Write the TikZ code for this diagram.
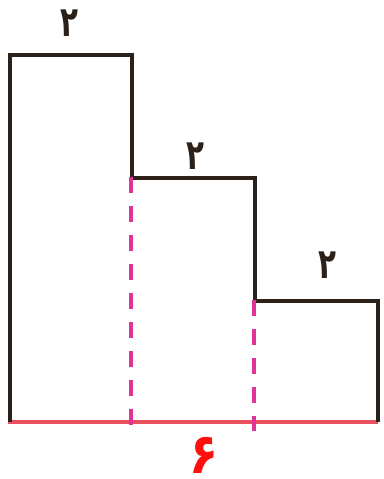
\documentclass[tikz,border=0pt]{standalone}
\usepackage{fontspec}
\newfontfamily\fa[Script=Arabic]{DejaVu Sans}
\definecolor{outl}{HTML}{2B2119}
\definecolor{dashc}{HTML}{E2339B}
\definecolor{basec}{HTML}{E8505F}
\definecolor{numred}{HTML}{FF1010}
\tikzset{
  outline/.style={draw=outl, line width=4pt},
  baseline/.style={draw=basec, line width=4pt},
  dashline/.style={draw=dashc, line width=4pt, dash pattern=on 16pt off 13pt},
  lbl/.style={font=\fa\bfseries\fontsize{42}{42}\selectfont, text=outl, inner sep=0pt, xscale=0.7},
  rlbl/.style={font=\fa\bfseries\fontsize{56}{56}\selectfont, text=numred, inner sep=0pt, xscale=0.85}
}
\begin{document}
\begin{tikzpicture}[x=1pt,y=-1pt]
\useasboundingbox (0,0) rectangle (383,479);
\coordinate (bl) at (10,422);
\coordinate (tl) at (10,55);
\coordinate (t1) at (132,55);
\coordinate (s1) at (132,178);
\coordinate (t2) at (255,178);
\coordinate (s2) at (255,301);
\coordinate (t3) at (378,301);
\coordinate (br) at (378,422);
\coordinate (d1a) at (131,177);
\coordinate (d1b) at (131,427);
\coordinate (d2a) at (254,300);
\coordinate (d2b) at (254,431);
\draw[baseline] (8,422) -- (br);
\draw[outline] (bl) -- (tl) -- (t1) -- (s1) -- (t2) -- (s2) -- (t3) -- (br);
\draw[dashline] (d1a) -- (d1b);
\draw[dashline] (d2a) -- (d2b);
\node[lbl] (n1) at (69,23) {۲};
\node[lbl] (n2) at (195,156) {۲};
\node[lbl] (n3) at (327,265) {۲};
\node[rlbl] (n4) at (204,455) {۶};
\end{tikzpicture}
\end{document}
